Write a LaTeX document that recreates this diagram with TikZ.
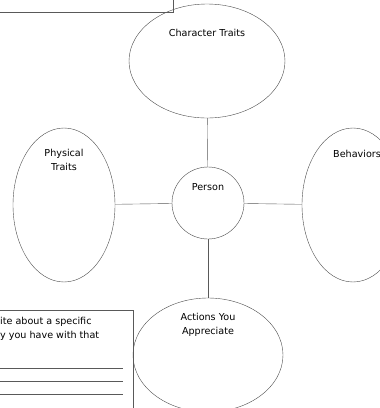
\documentclass[tikz,border=0pt]{standalone}
\usepackage{fontspec}
\setmainfont{DejaVu Sans}
\usetikzlibrary{shapes.geometric}

\begin{document}
\begin{tikzpicture}[x=1pt,y=-1pt,
  bubble/.style={draw=black!70,ellipse,inner sep=0pt},
  lbl/.style={font=\fontsize{9.6}{14}\selectfont,align=center,inner sep=0pt},
  rule/.style={draw=black!65,thin}]
\useasboundingbox (0,0) rectangle (380,408);
% bubbles
\node[bubble,minimum width=156pt,minimum height=114pt] (chr) at (207,61) {};
\node[bubble,minimum width=102pt,minimum height=154pt] (phys) at (64,205) {};
\node[bubble,minimum width=102pt,minimum height=154pt] (beh) at (353,205) {};
\node[bubble,circle,minimum size=72pt] (per) at (208,203) {};
\node[bubble,minimum width=150pt,minimum height=114pt] (act) at (208,355) {};
% labels
\node[lbl] (chrtxt) at (207,33) {Character Traits};
\node[lbl] (phystxt) at (64,160) {Physical\\Traits};
\node[lbl,anchor=west] (behtxt) at (333,154) {Behaviors};
\node[lbl] (pertxt) at (208,187) {Person};
\node[lbl] (acttxt) at (208,325) {Actions You\\Appreciate};
% links
\draw[rule] (chr) -- (per);
\draw[rule] (phys) -- (per);
\draw[rule] (per) -- (beh);
\draw[rule] (per) -- (act);
% boxes
\draw[rule] (-5,-5) rectangle (173,12);
\draw[rule] (-5,310) rectangle (133,415);
\node[lbl,anchor=west,align=left] (note) at (0,329) {ite about a specific\\y you have with that};
\foreach \y in {368,381,394}
  \draw[rule] (-2,\y) -- (123,\y);
\end{tikzpicture}
\end{document}
